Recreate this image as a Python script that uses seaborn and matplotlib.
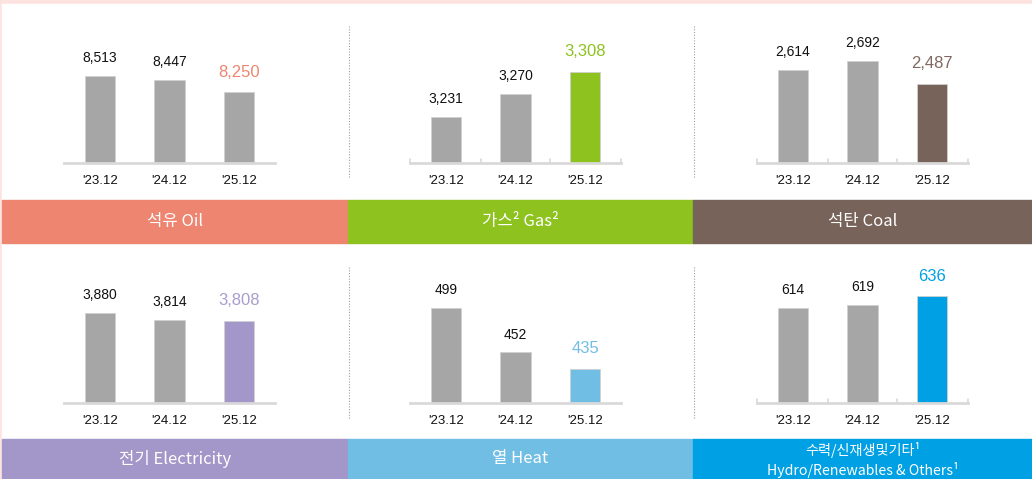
import matplotlib.pyplot as plt
import seaborn as sns
import pandas as pd
from matplotlib.patches import Rectangle

# Energy consumption by source, '23.12 / '24.12 / '25.12
periods = ["'23.12", "'24.12", "'25.12"]
oil = [8513, 8447, 8250]
gas = [3231, 3270, 3308]
coal = [2614, 2692, 2487]
electricity = [3880, 3814, 3808]
heat = [499, 452, 435]
hydro = [614, 619, 636]

titles = ["석유 Oil", "가스² Gas²", "석탄 Coal",
          "전기 Electricity", "열 Heat",
          "수력/신재생및기타¹\nHydro/Renewables & Others¹"]
series = [oil, gas, coal, electricity, heat, hydro]

# colours
band_colors = ["#EE8571", "#8DC21F", "#776359", "#A396C8", "#71BEE4", "#00A0E4"]
label_colors = ["#EE8571", "#8DC21F", "#7E6A61", "#A89DCC", "#71BEE4", "#00A0E4"]
bar_last = ["#A6A6A6", "#8DC21F", "#776359", "#A396C8", "#71BEE4", "#00A0E4"]
gray = "#A6A6A6"

# truncated y ranges as drawn in the original
ylims = [(7083, 9435), (3152, 3397), (1783, 3057),
         (3069, 4357), (399, 549), (440, 702)]
has_ticks = [False, True, True, False, False, True]

W, H = 1032, 479
fig = plt.figure(figsize=(W / 100, H / 100), dpi=100)
fig.patch.set_facecolor("#FDE3E0")

sns.set_style("white")
plt.rcParams['font.family'] = ['Liberation Sans', 'Noto Sans CJK KR', 'DejaVu Sans']

bg = fig.add_axes([0, 0, 1, 1])
bg.set_xlim(0, W)
bg.set_ylim(H, 0)
bg.axis("off")
bg.add_patch(Rectangle((2, 3.5), W - 2, H - 3.5, color="white"))

col_x = [2, 348, 693, W]
row_base = [163, 403]
row_band = [(200, 243), (439, 479)]
chart_left = [64, 410, 757]

for i, (vals, title) in enumerate(zip(series, titles)):
    r, c = divmod(i, 3)
    # colour band with the source name
    y0, y1 = row_band[r]
    bg.add_patch(Rectangle((col_x[c], y0), col_x[c + 1] - col_x[c], y1 - y0,
                           color=band_colors[i]))
    if i == 5:
        bg.text((col_x[c] + col_x[c + 1]) / 2, (y0 + y1) / 2 + 1, title,
                ha="center", va="center", color="white", fontsize=10.2,
                linespacing=1.3, family=['Noto Sans CJK KR', 'DejaVu Sans'])
    else:
        bg.text((col_x[c] + col_x[c + 1]) / 2, (y0 + y1) / 2, title,
                ha="center", va="center", color="white", fontsize=12,
                family=['Noto Sans CJK KR', 'DejaVu Sans'])

    # dotted separators
    if c > 0:
        top = 26 if r == 0 else 267
        bg.plot([col_x[c] + 0.5, col_x[c] + 0.5], [top, top + 152],
                color="#A0A0A0", lw=0.8, ls=(0, (1, 1.5)))

    # bar chart
    base = row_base[r]
    ax = fig.add_axes([chart_left[c] / W, 1 - base / H, 211 / W, 143 / H])
    df = pd.DataFrame({"period": periods, "value": vals})
    sns.barplot(data=df, x="period", y="value", hue="period",
                palette=[gray, gray, bar_last[i]], legend=False, saturation=1,
                width=0.43, ax=ax, edgecolor="#D0D0D0", linewidth=0.6)
    ax.set_xlim(-0.51, 2.51)
    ax.set_ylim(*ylims[i])
    ax.set_xlabel("")
    ax.set_ylabel("")
    ax.set_yticks([])
    ax.patch.set_alpha(0)
    for s in ["top", "right", "left"]:
        ax.spines[s].set_visible(False)
    ax.spines["bottom"].set_color("#D9D9D9")
    ax.spines["bottom"].set_linewidth(2)
    ax.tick_params(axis="x", length=0, pad=9, labelsize=9.5, labelcolor="#111111")
    if has_ticks[i]:
        for xt in [-0.51, 0.5, 1.5, 2.51]:
            ax.plot([xt, xt], [0, 0.025], transform=ax.get_xaxis_transform(),
                    color="#D9D9D9", lw=1.2, clip_on=False)

    span = ylims[i][1] - ylims[i][0]
    for j, v in enumerate(vals):
        last = j == 2
        ax.text(j, v + span * (0.14 if last else 0.125), f"{v:,}",
                ha="center", va="center",
                fontsize=12 if last else 10,
                color=label_colors[i] if last else "#111111")

fig.savefig("out.png", dpi=100)
